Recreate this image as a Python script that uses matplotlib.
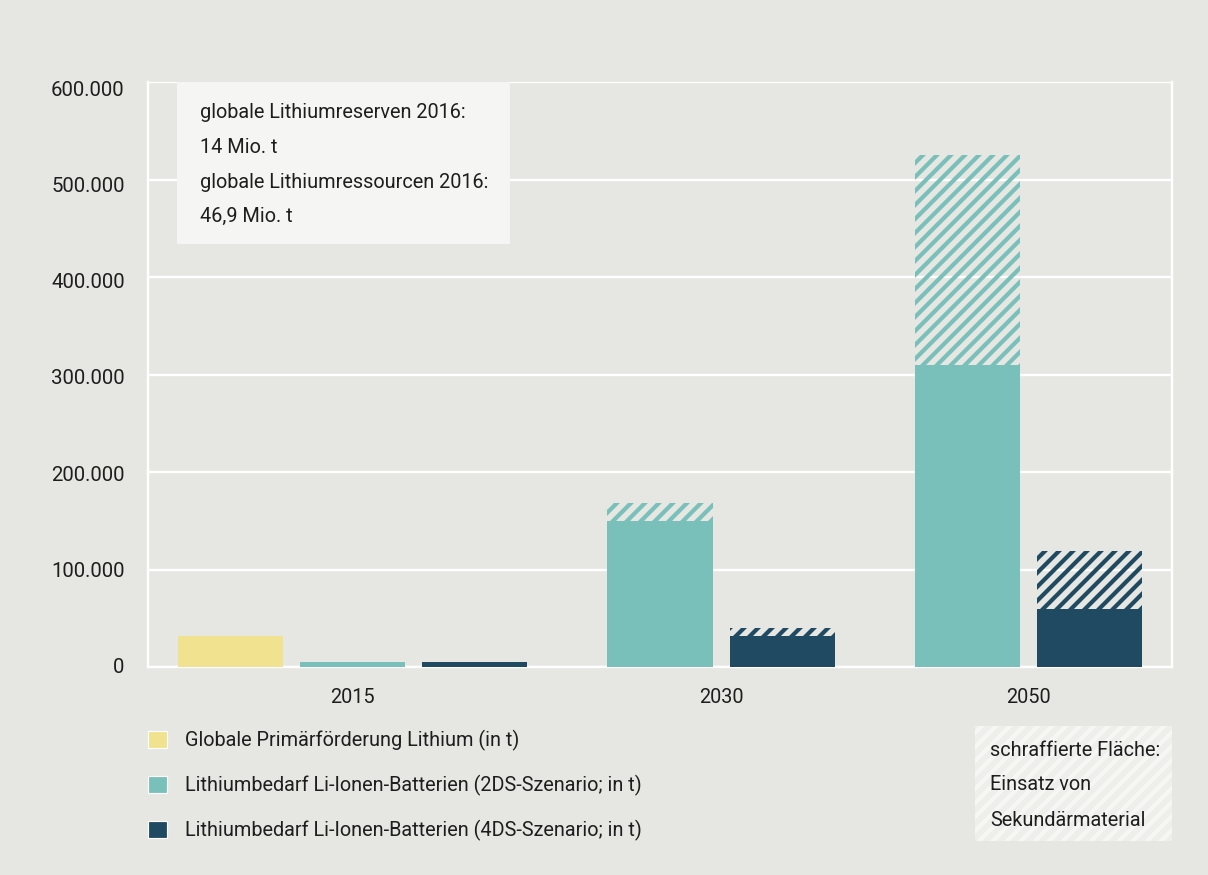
import matplotlib
matplotlib.use("Agg")
import matplotlib.pyplot as plt
from matplotlib.patches import Patch, Rectangle
from matplotlib.ticker import FuncFormatter
from matplotlib.transforms import ScaledTranslation

# ---------------- data ----------------
years = ["2015", "2030", "2050"]
primary_production = [32000, 0, 0]
demand_2ds_primary = [5000, 150000, 310000]
demand_2ds_secondary = [0, 18000, 215000]
demand_4ds_primary = [5000, 32000, 60000]
demand_4ds_secondary = [0, 8000, 59000]
yticks = [0, 100000, 200000, 300000, 400000, 500000, 600000]
legend_labels = [
    "Globale Primärförderung Lithium (in t)",
    "Lithiumbedarf Li-Ionen-Batterien (2DS-Szenario; in t)",
    "Lithiumbedarf Li-Ionen-Batterien (4DS-Szenario; in t)",
]
info_lines = ["globale Lithiumreserven 2016:", "14 Mio. t",
              "globale Lithiumressourcen 2016:", "46,9 Mio. t"]
note_lines = ["schraffierte Fläche:", "Einsatz von", "Sekundärmaterial"]

# ---------------- style ----------------
BG = "#e6e6e2"
YELLOW = "#f0e28e"
TEAL = "#79c0bb"
DARK = "#1f4a62"
TXT = "#1e1e1e"
FONT = ["Roboto", "DejaVu Sans"]
plt.rcParams["font.family"] = FONT
plt.rcParams["hatch.linewidth"] = 3.6

DPI = 84
W, H = 1208, 875
fig = plt.figure(figsize=(W / DPI, H / DPI), dpi=DPI, facecolor=BG)

def px(x, y):
    return x / W, 1 - y / H

FS = 17.0  # points
TFS = 17.5

ax = fig.add_axes([148 / W, 1 - 667 / H, 1024 / W, 585 / H])
ax.set_facecolor(BG)

group_step = 307 / 122
bw = 105 / 122

def xpos(g, s):
    return g * group_step + s

for g in range(len(years)):
    if primary_production[g] > 0:
        ax.bar(xpos(g, 0), primary_production[g], width=bw, color=YELLOW, zorder=3, linewidth=0)
    ax.bar(xpos(g, 1), demand_2ds_primary[g], width=bw, color=TEAL, zorder=3, linewidth=0)
    if demand_2ds_secondary[g] > 0:
        ax.bar(xpos(g, 1), demand_2ds_secondary[g], bottom=demand_2ds_primary[g], width=bw,
               facecolor="none", edgecolor=TEAL, hatch="//", linewidth=0, zorder=3)
    ax.bar(xpos(g, 2), demand_4ds_primary[g], width=bw, color=DARK, zorder=3, linewidth=0)
    if demand_4ds_secondary[g] > 0:
        ax.bar(xpos(g, 2), demand_4ds_secondary[g], bottom=demand_4ds_primary[g], width=bw,
               facecolor="none", edgecolor=DARK, hatch="//", linewidth=0, zorder=3)

ax.set_xlim(-bw / 2 - 30 / 122, xpos(2, 2) + bw / 2 + 30 / 122)
ax.set_ylim(0, 600000)
ax.set_yticks(yticks)
ax.yaxis.set_major_formatter(FuncFormatter(lambda v, p: f"{int(v):,}".replace(",", ".")))
ax.tick_params(axis="y", length=0, pad=20, labelsize=TFS, labelcolor=TXT)
for v, lab in zip(yticks, ax.get_yticklabels()):
    off = 1.5 - 8.0 * v / 600000
    lab.set_transform(lab.get_transform() + ScaledTranslation(0, off / DPI, fig.dpi_scale_trans))

tick_x = [sum(xpos(g, s) for s in (0, 1, 2)) / 3 if g == 0 else (xpos(g, 1) + xpos(g, 2)) / 2
          for g in range(len(years))]
ax.set_xticks(tick_x)
ax.set_xticklabels(years)
ax.tick_params(axis="x", length=0, pad=18, labelsize=FS, labelcolor=TXT)

ax.grid(axis="y", color="white", linewidth=2, zorder=1)
ax.set_axisbelow(True)
for side in ["left", "right", "bottom"]:
    ax.spines[side].set_color("white")
    ax.spines[side].set_linewidth(2)
ax.spines["top"].set_visible(False)

# info box
x0, y0 = px(177, 244)
x1, y1 = px(510, 82)
fig.patches.append(Rectangle((x0, y0), x1 - x0, y1 - y0, transform=fig.transFigure,
                             facecolor="#f5f5f3", edgecolor="none", zorder=5))
for i, line in enumerate(info_lines):
    fig.text(*px(200, 113 + i * 34.5), line, fontsize=FS, color=TXT, va="center", ha="left", zorder=6)

# note box with faint hatch
x0, y0 = px(975, 841)
x1, y1 = px(1172, 726)
note = Rectangle((x0, y0), x1 - x0, y1 - y0, transform=fig.transFigure,
                 facecolor="#eeeeeb", edgecolor="#f6f6f4", hatch="//", linewidth=0, zorder=5)
fig.patches.append(note)
for i, line in enumerate(note_lines):
    fig.text(*px(990, 750 + i * 35), line, fontsize=FS, color=TXT, va="center", ha="left", zorder=6)

# legend
handles = [Patch(facecolor=c, edgecolor="white", linewidth=1) for c in (YELLOW, TEAL, DARK)]
leg = fig.legend(handles, legend_labels, loc="upper left", bbox_to_anchor=px(140, 722),
                 frameon=False, fontsize=FS, handlelength=0.95, handleheight=0.95,
                 handletextpad=0.9, labelspacing=1.2, labelcolor=TXT, borderaxespad=0)

fig.savefig("out.png", dpi=DPI, facecolor=BG)
